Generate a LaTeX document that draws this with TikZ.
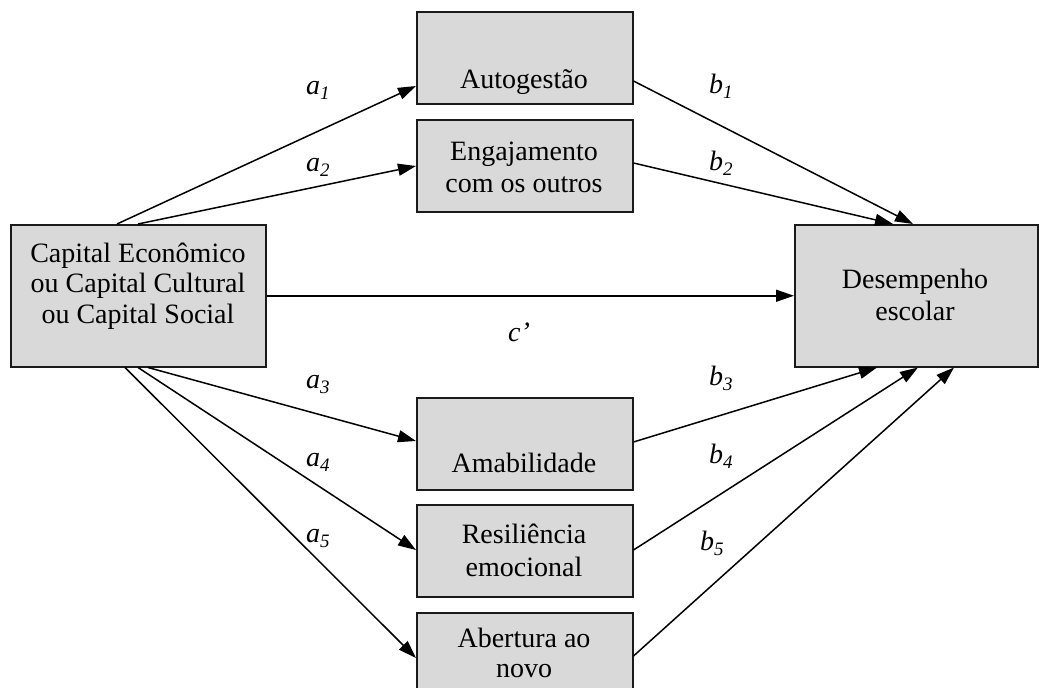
\documentclass[tikz,border=0pt]{standalone}
\usepackage{fontspec}
\setmainfont{Liberation Serif}
\usetikzlibrary{arrows.meta,calc}
\definecolor{boxfill}{HTML}{D9D9D9}
\definecolor{boxline}{HTML}{1A1A1A}
\newcommand{\lbl}[2]{\textit{#1}\raisebox{-5pt}{\fontsize{19pt}{19pt}\selectfont\textit{#2}}}
\begin{document}
\begin{tikzpicture}[x=1pt,y=-1pt,
  box/.style={draw=boxline, fill=boxfill, line width=1.5pt, inner sep=0pt, anchor=north west},
  smallbox/.style={box, minimum width=216pt, minimum height=92pt},
  bigbox/.style={box, minimum height=142pt},
  txt/.style={align=center, anchor=base, inner sep=0pt, font=\fontsize{28pt}{31pt}\selectfont},
  lab/.style={anchor=base west, inner sep=0pt, font=\fontsize{28pt}{32pt}\selectfont},
  arr/.style={line width=1.5pt, -{Triangle[length=18pt,width=12pt]}}]
\useasboundingbox (0,0) rectangle (1039,688);
\clip (0,0) rectangle (1039,688);
% boxes
\node[bigbox, minimum width=255pt] (L) at (10,224) {};
\node[bigbox, minimum width=243pt] (D) at (794,224) {};
\node[smallbox] (A1) at (416,11) {};
\node[smallbox] (A2) at (416,119) {};
\node[smallbox] (A3) at (416,397) {};
\node[smallbox] (A4) at (416,504) {};
\node[smallbox] (A5) at (416,612) {};
% box texts (anchor=base is the last line's baseline)
\node[txt, font=\fontsize{28pt}{30.5pt}\selectfont] (tL) at (138,323) {Capital Econômico\\ou Capital Cultural\\ou Capital Social};
\node[txt, font=\fontsize{28pt}{32pt}\selectfont] (tD) at (915,320) {Desempenho\\escolar};
\node[txt] (t1) at (524,88) {Autogestão};
\node[txt, font=\fontsize{28pt}{32pt}\selectfont] (t2) at (524,192) {Engajamento\\com os outros};
\node[txt] (t3) at (524,472) {Amabilidade};
\node[txt, font=\fontsize{28pt}{33pt}\selectfont] (t4) at (524,576) {Resiliência\\emocional};
\node[txt, font=\fontsize{28pt}{30pt}\selectfont] (t5) at (524,677) {Abertura ao\\novo};
% arrows
\draw[arr] ($(L.north west)+(107,0)$) -- ($(A1.north west)+(0,75)$);
\draw[arr] ($(L.north west)+(128,0)$) -- ($(A2.north west)+(0,47)$);
\draw[arr] (L.east) -- (D.west);
\draw[arr] ($(A1.north east)+(0,70)$) -- ($(D.north west)+(119,0)$);
\draw[arr] ($(A2.north east)+(0,44)$) -- ($(D.north west)+(99,0)$);
\draw[arr] ($(L.south west)+(138,0)$) -- ($(A3.north west)+(0,44)$);
\draw[arr] ($(L.south west)+(128,0)$) -- ($(A4.north west)+(0,46)$);
\draw[arr] ($(L.south west)+(115,0)$) -- ($(A5.north west)+(0,46)$);
\draw[arr] ($(A3.north east)+(0,45)$) -- ($(D.south west)+(83,0)$);
\draw[arr] ($(A4.north east)+(0,46)$) -- ($(D.south west)+(124,0)$);
\draw[arr] ($(A5.north east)+(0,44)$) -- ($(D.south west)+(160,0)$);
% labels
\node[lab] (la1) at (306,94) {\lbl{a}{1}};
\node[lab] (la2) at (306,171) {\lbl{a}{2}};
\node[lab] (lb1) at (709,93) {\lbl{b}{1}};
\node[lab] (lb2) at (709,170) {\lbl{b}{2}};
\node[lab] (lc) at (508,341) {\textit{c’}};
\node[lab] (la3) at (306,388) {\lbl{a}{3}};
\node[lab] (la4) at (306,466) {\lbl{a}{4}};
\node[lab] (la5) at (306,542) {\lbl{a}{5}};
\node[lab] (lb3) at (709,385) {\lbl{b}{3}};
\node[lab] (lb4) at (709,463) {\lbl{b}{4}};
\node[lab] (lb5) at (700,550) {\lbl{b}{5}};
\end{tikzpicture}
\end{document}
